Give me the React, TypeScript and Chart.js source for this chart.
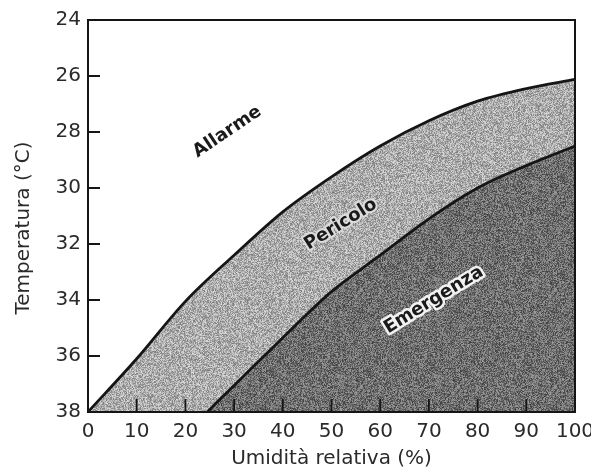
import { useEffect, useRef } from 'react';
import { Chart, registerables } from 'chart.js';

Chart.register(...registerables);

// Upper boundary (Allarme / Pericolo)
const humidityUpper = [0, 10, 20, 30, 40, 50, 60, 70, 80, 90, 100];
const tempUpper = [38, 36.1, 34.05, 32.4, 30.85, 29.6, 28.5, 27.6, 26.9, 26.45, 26.12];

// Lower boundary (Pericolo / Emergenza)
const humidityLower = [24.5, 30, 35, 40, 45, 50, 60, 70, 80, 90, 100];
const tempLower = [38, 37.05, 36.2, 35.35, 34.5, 33.7, 32.4, 31.1, 30.0, 29.2, 28.5];

const xTicks = [0, 10, 20, 30, 40, 50, 60, 70, 80, 90, 100];
const yTicks = [24, 26, 28, 30, 32, 34, 36, 38];

const zoneNames = ['Allarme', 'Pericolo', 'Emergenza'];
const zoneHumidity = [28.6, 51.9, 71.0];
const zoneTemp = [28.0, 31.3, 34.0];
const zoneAngle = [-34, -32, -31.5];

const xTitle = 'Umidità relativa (%)';
const yTitle = 'Temperatura (°C)';

function makeGrain(target: CanvasRenderingContext2D, base: number, spread: number, seed: number) {
  const size = 97;
  const c = document.createElement('canvas');
  c.width = size;
  c.height = size;
  const g = c.getContext('2d')!;
  const img = g.createImageData(size, size);
  let s = seed >>> 0;
  const rnd = () => {
    s = (Math.imul(s, 1664525) + 1013904223) >>> 0;
    return s / 4294967296;
  };
  for (let i = 0; i < size * size; i++) {
    const v = Math.max(0, Math.min(255, base + (rnd() - 0.5) * spread));
    img.data[i * 4] = v;
    img.data[i * 4 + 1] = v;
    img.data[i * 4 + 2] = v;
    img.data[i * 4 + 3] = 255;
  }
  g.putImageData(img, 0, 0);
  return target.createPattern(c, 'repeat');
}

export default function App() {
  const canvasRef = useRef<HTMLCanvasElement | null>(null);

  useEffect(() => {
    document.body.style.margin = '0';
    const canvas = canvasRef.current;
    if (!canvas) return;
    const ctx2d = canvas.getContext('2d')!;
    const lightFill = makeGrain(ctx2d, 172, 95, 12345);
    const darkFill = makeGrain(ctx2d, 110, 95, 98765);

    const overlay = {
      id: 'overlay',
      afterDatasetsDraw(chart: any) {
        const { ctx, chartArea } = chart;
        const { left, right, top, bottom } = chartArea;
        const xs = chart.scales.x;
        const ys = chart.scales.y;
        ctx.save();
        ctx.strokeStyle = '#151515';
        ctx.lineWidth = 2;
        ctx.strokeRect(left, top, right - left, bottom - top);
        ctx.lineWidth = 1.8;
        ctx.beginPath();
        xTicks.slice(1, -1).forEach((v) => {
          const px = xs.getPixelForValue(v);
          ctx.moveTo(px, bottom);
          ctx.lineTo(px, bottom - 13);
        });
        yTicks.slice(1, -1).forEach((v) => {
          const py = ys.getPixelForValue(v);
          ctx.moveTo(left, py);
          ctx.lineTo(left + 12, py);
        });
        ctx.stroke();

        // y axis title
        ctx.save();
        ctx.font = '20px "DejaVu Sans"';
        ctx.fillStyle = '#2a2a2a';
        ctx.textAlign = 'center';
        ctx.textBaseline = 'middle';
        ctx.translate(24, (top + bottom) / 2 + 12);
        ctx.rotate(-Math.PI / 2);
        ctx.fillText(yTitle, 0, 0);
        ctx.restore();

        ctx.font = 'bold 18px "DejaVu Sans"';
        ctx.textAlign = 'center';
        ctx.textBaseline = 'middle';
        zoneNames.forEach((name, i) => {
          const px = xs.getPixelForValue(zoneHumidity[i]);
          const py = ys.getPixelForValue(zoneTemp[i]);
          ctx.save();
          ctx.translate(px, py);
          ctx.rotate((zoneAngle[i] * Math.PI) / 180);
          if (i === 2) {
            ctx.strokeStyle = '#f2f2f2';
            ctx.lineWidth = 5;
            ctx.lineJoin = 'round';
            ctx.strokeText(name, 0, 0);
          } else if (i === 1) {
            ctx.strokeStyle = '#dcdcdc';
            ctx.lineWidth = 4;
            ctx.lineJoin = 'round';
            ctx.strokeText(name, 0, 0);
          }
          ctx.fillStyle = '#1a1a1a';
          ctx.fillText(name, 0, 0);
          ctx.restore();
        });
        ctx.restore();
      },
    };

    const chart = new Chart(canvas, {
      type: 'line',
      data: {
        datasets: [
          {
            label: 'Emergenza',
            data: humidityLower.map((x, i) => ({ x, y: tempLower[i] })),
            borderColor: '#151515',
            borderWidth: 2.8,
            pointRadius: 0,
            cubicInterpolationMode: 'monotone',
            fill: { value: 38 },
            backgroundColor: darkFill as any,
          },
          {
            label: 'Pericolo',
            data: humidityUpper.map((x, i) => ({ x, y: tempUpper[i] })),
            borderColor: '#151515',
            borderWidth: 2.8,
            pointRadius: 0,
            cubicInterpolationMode: 'monotone',
            fill: { value: 38 },
            backgroundColor: lightFill as any,
          },
        ],
      },
      options: {
        animation: false,
        responsive: false,
        devicePixelRatio: 1,
        layout: { padding: { left: 0, right: 16, top: 20, bottom: 0 } },
        plugins: {
          legend: { display: false },
          tooltip: { enabled: false },
        },
        scales: {
          x: {
            type: 'linear',
            min: 0,
            max: 100,
            afterBuildTicks: (scale: any) => {
              scale.ticks = xTicks.map((v) => ({ value: v }));
            },
            ticks: {
              autoSkip: false,
              maxRotation: 0,
              padding: 8,
              color: '#2a2a2a',
              font: { family: '"DejaVu Sans"', size: 20 },
            },
            grid: { display: false, drawTicks: false },
            border: { display: false },
            title: {
              display: true,
              text: xTitle,
              color: '#2a2a2a',
              font: { family: '"DejaVu Sans"', size: 20 },
              padding: { top: 0, bottom: 0 },
            },
            afterFit: (scale: any) => {
              scale.height = 59;
              scale.paddingLeft = 0;
              scale.paddingRight = 0;
            },
          },
          y: {
            type: 'linear',
            reverse: true,
            min: 24,
            max: 38,
            afterBuildTicks: (scale: any) => {
              scale.ticks = yTicks.map((v) => ({ value: v }));
            },
            ticks: {
              autoSkip: false,
              padding: 7,
              color: '#2a2a2a',
              font: { family: '"DejaVu Sans"', size: 20 },
            },
            grid: { display: false, drawTicks: false },
            border: { display: false },
            title: { display: false },
            afterFit: (scale: any) => {
              scale.width = 88;
            },
          },
        },
      },
      plugins: [overlay],
    } as any);

    return () => chart.destroy();
  }, []);

  return (
    <div style={{ width: 591, height: 471 }}>
      <canvas ref={canvasRef} width={591} height={471} style={{ display: 'block' }} />
    </div>
  );
}
